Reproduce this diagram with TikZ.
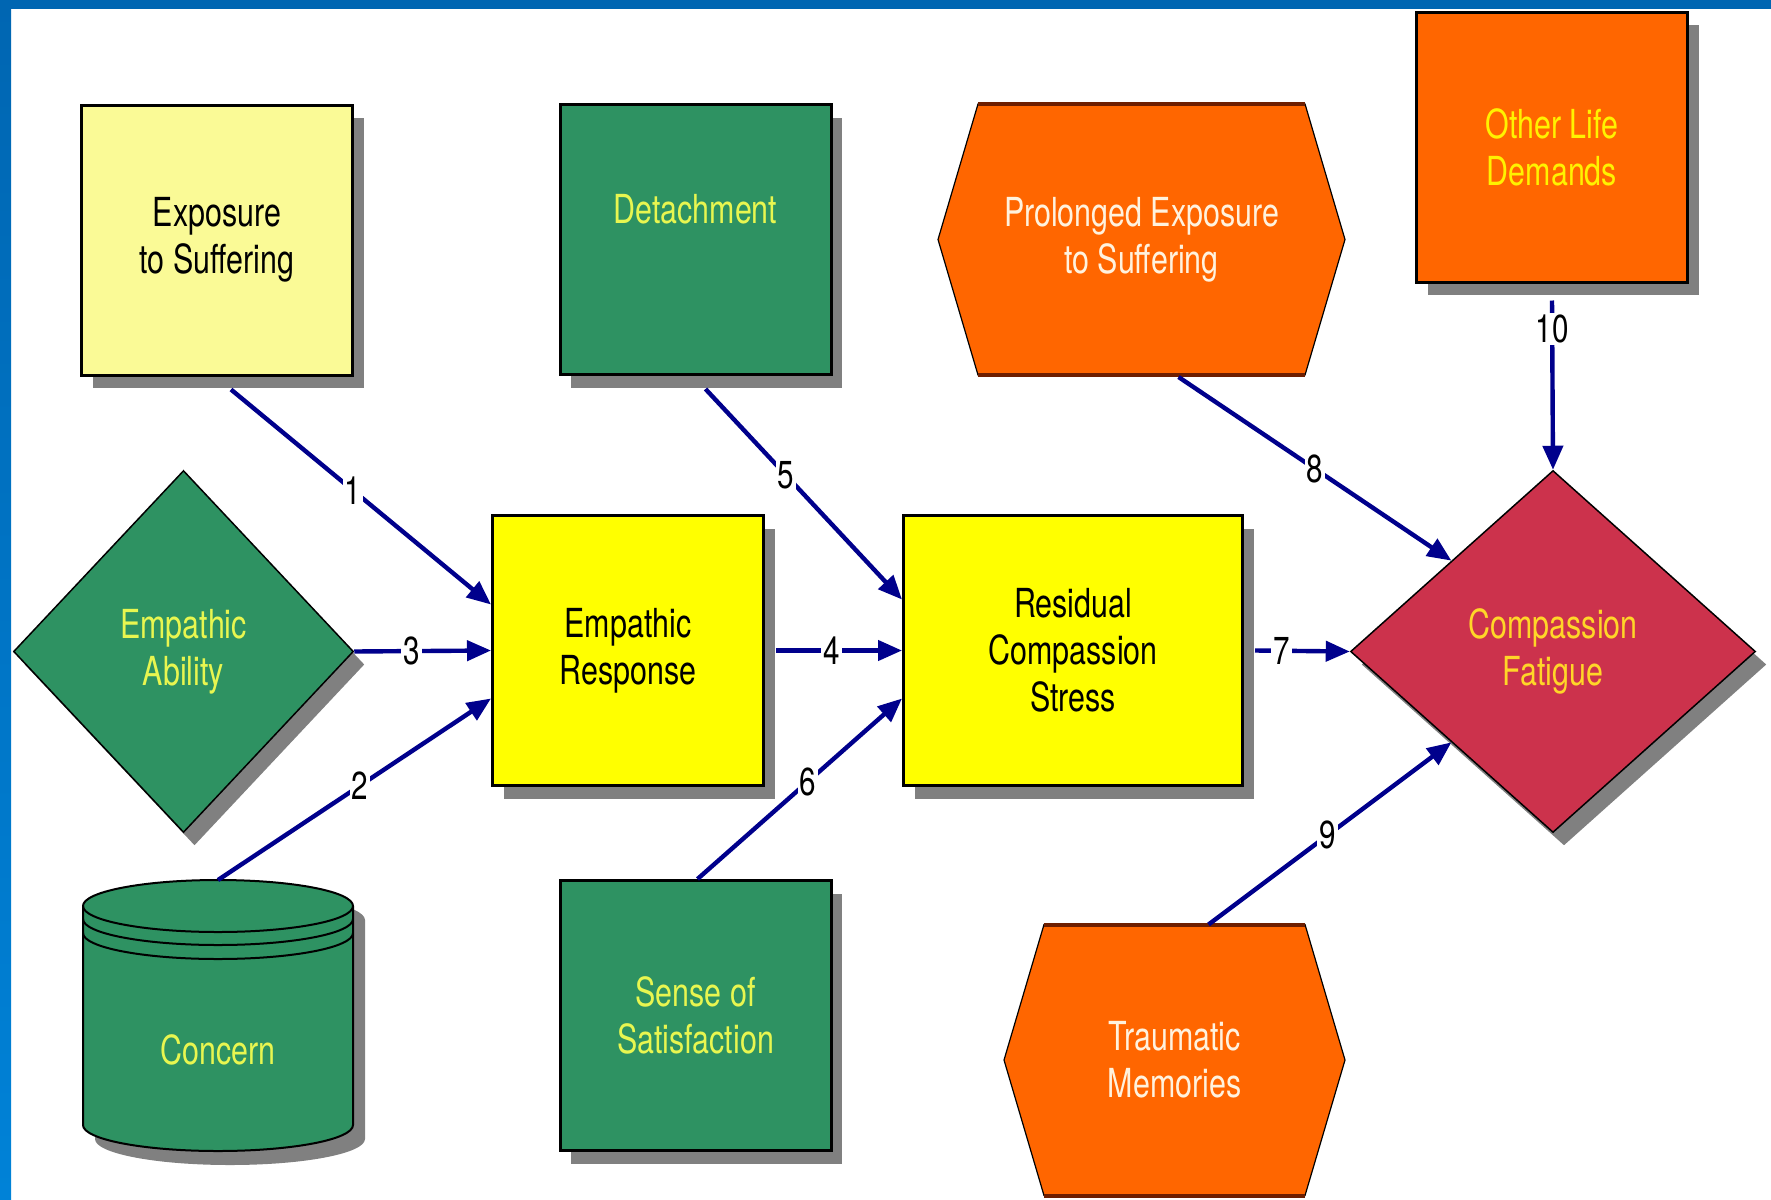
\documentclass[tikz,border=0pt]{standalone}
\usepackage{fontspec}
\setmainfont{TeX Gyre Heros}[FakeStretch=0.76]
\usetikzlibrary{arrows.meta,shapes.geometric,shadows,backgrounds}

\definecolor{frameblue}{RGB}{0,102,178}
\definecolor{frameblue2}{RGB}{0,130,215}
\definecolor{paleyellow}{RGB}{250,250,150}
\definecolor{boxyellow}{RGB}{255,255,0}
\definecolor{boxgreen}{RGB}{46,146,98}
\definecolor{boxorange}{RGB}{255,102,0}
\definecolor{boxred}{RGB}{204,50,76}
\definecolor{shadowgrey}{RGB}{128,128,128}
\definecolor{arrowblue}{RGB}{0,0,140}
\definecolor{greentext}{RGB}{232,246,80}
\definecolor{creamtext}{RGB}{255,242,222}
\definecolor{goldtext}{RGB}{255,214,40}
\definecolor{edgebrown}{RGB}{110,30,0}

\tikzset{
  greyshadow/.style={drop shadow={shadow xshift=5.5pt, shadow yshift=-6.5pt,
      fill=shadowgrey, opacity=1}},
  factor/.style={rectangle, draw=black, line width=1.5pt, align=center,
    inner sep=0pt, minimum width=135.5pt, minimum height=135pt,
    font=\fontsize{20}{23.5}\selectfont, greyshadow},
  choice/.style={diamond, draw=black, line width=.75pt, align=center,
    inner sep=0pt, minimum width=170pt, minimum height=181pt,
    font=\fontsize{20}{23.5}\selectfont, greyshadow},
  hexbox/.style={rectangle, align=center, inner sep=0pt, outer sep=0pt,
    minimum width=163.5pt, minimum height=135.5pt,
    font=\fontsize{20}{23.5}\selectfont},
  flow/.style={arrowblue, line width=2.2pt, -{Triangle[length=12pt,width=10pt]}},
  num/.style={fill=white, inner sep=1pt, text=black,
    font=\fontsize{19.5}{19.5}\selectfont},
}

\begin{document}
\begin{tikzpicture}[x=0.5pt, y=-0.5pt]
  \useasboundingbox (0,0) rectangle (1771,1199);
  \begin{scope}[on background layer]
    \fill[white] (0,0) rectangle (1771,1199);
    \fill[frameblue] (0,0) rectangle (1771,9);
    \shade[top color=frameblue, bottom color=frameblue2] (0,0) rectangle (11,1199);
  \end{scope}

  % left column
  \node[factor, fill=paleyellow] (exposure) at (217,240) {Exposure\\to Suffering};
  \node[choice, fill=boxgreen, text=greentext] (ability) at (183.5,651.5) {Empathic\\Ability};
  \fill[shadowgrey, shift={(12,14)}] (83,906) -- (83,1125) %
    arc[start angle=180, end angle=360, x radius=67.5pt, y radius=13pt] -- (353,906) %
    arc[start angle=0, end angle=180, x radius=67.5pt, y radius=13pt] -- cycle;
  \filldraw[fill=boxgreen, line width=1pt] (83,906) -- (83,1125) %
    arc[start angle=180, end angle=360, x radius=67.5pt, y radius=13pt] -- (353,906) %
    arc[start angle=0, end angle=180, x radius=67.5pt, y radius=13pt] -- cycle;
  \foreach \r in {906,919,933}
    \draw[line width=1pt] (83,\r) arc[start angle=180, end angle=360, x radius=67.5pt, y radius=13pt];
  \node[font=\fontsize{20}{23.5}\selectfont, text=greentext] (concern) at (218,1050) {Concern};
  \coordinate (concerntop) at (218,880);

  % middle column
  \node[factor, fill=boxgreen, text=greentext] (detach) at (695.5,239.5) {Detachment\\\strut};
  \node[factor, fill=boxyellow] (response) at (628,650.5) {Empathic\\Response};
  \node[factor, fill=boxgreen, text=greentext] (sense) at (695.5,1015.5) {Sense of\\Satisfaction};
  \node[factor, fill=boxyellow, minimum width=169.5pt] (residual) at (1073,650.5) {Residual\\Compassion\\Stress};

  % right column
  \node[hexbox, text=creamtext] (prolonged) at (1141.5,239.5) {Prolonged Exposure\\to Suffering};
  \node[hexbox, text=creamtext, minimum width=130.5pt] (traumatic) at (1174.5,1060) {Traumatic\\Memories};
  \node[factor, fill=boxorange, text=yellow] (demands) at (1552,147) {Other Life\\Demands};
  \node[choice, fill=boxred, text=goldtext, minimum width=202.5pt] (fatigue) at (1553,651.5) {Compassion\\Fatigue};
  \begin{scope}[on background layer]
    \foreach \h in {prolonged,traumatic} {
      \filldraw[fill=boxorange, line width=.6pt] (\h.north west) -- (\h.north east) %
        -- ([shift={(40,0)}]\h.east) -- (\h.south east) -- (\h.south west) %
        -- ([shift={(-40,0)}]\h.west) -- cycle;
      \draw[edgebrown, line width=2pt] (\h.north west) -- (\h.north east) %
        (\h.south west) -- (\h.south east);
    }
  \end{scope}

  % numbered links
  \draw[flow] ([shift={(14,13)}]exposure.south) -- node[num, pos=.47] (n1) {1} ([shift={(0,-46)}]response.west);
  \draw[flow] (concerntop) -- node[num, pos=.52] (n2) {2} ([shift={(0,48)}]response.west);
  \draw[flow] (ability.east) -- node[num, pos=.42] (n3) {3} (response.west);
  \draw[flow] ([shift={(11,0)}]response.east) -- node[num, pos=.44] (n4) {4} (residual.west);
  \draw[flow] ([shift={(10,13)}]detach.south) -- node[num, pos=.41] (n5) {5} ([shift={(0,-51)}]residual.west);
  \draw[flow] ([shift={(2,0)}]sense.north) -- node[num, pos=.54] (n6) {6} ([shift={(0,48)}]residual.west);
  \draw[flow] ([shift={(11,0)}]residual.east) -- node[num, pos=.28] (n7) {7} (fatigue.west);
  \draw[flow] ([shift={(37,2)}]prolonged.south) -- node[num, pos=.5] (n8) {8} (fatigue.north west);
  \draw[flow] ([shift={(34,0)}]traumatic.north) -- node[num, pos=.49] (n9) {9} (fatigue.south west);
  \draw[flow] ([shift={(0,17)}]demands.south) -- node[num, pos=.17] (n10) {10} (fatigue.north);
\end{tikzpicture}
\end{document}
